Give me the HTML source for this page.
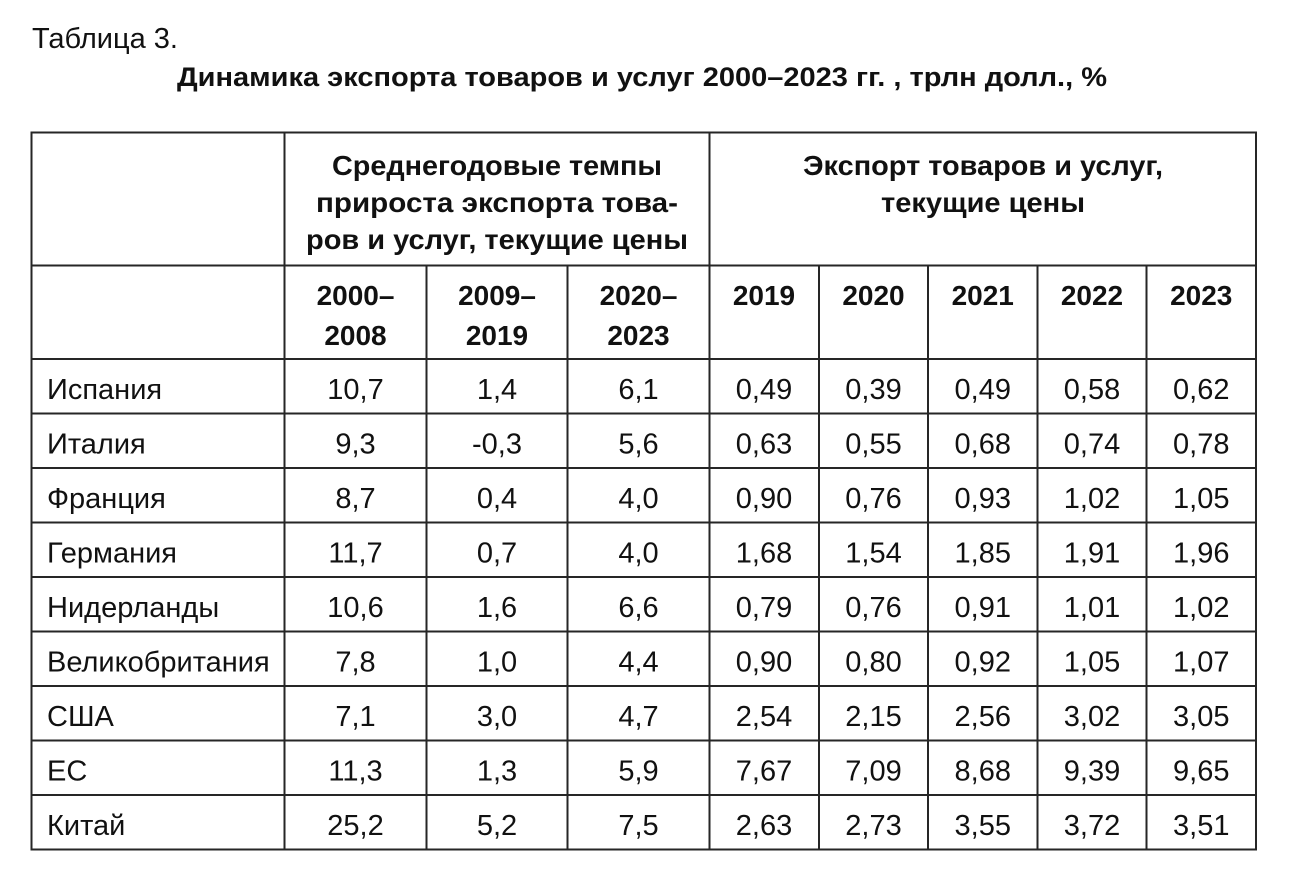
<!DOCTYPE html>
<html><head><meta charset="utf-8"><style>
html,body{margin:0;padding:0;background:#fff;}
svg{display:block;}
text{font-family:"Liberation Sans","DejaVu Sans",sans-serif;fill:#111;}
.b{font-weight:bold;}
.h{font-weight:bold;font-size:28px;text-anchor:middle;}
.n{font-size:29px;text-anchor:middle;}
.c{font-size:29px;}
</style></head><body>
<svg width="1291" height="879" viewBox="0 0 1291 879" xmlns="http://www.w3.org/2000/svg">
<rect width="1291" height="879" fill="#fff"/>
<text x="32" y="48" style="font-size:29px" textLength="146" lengthAdjust="spacingAndGlyphs">Таблица 3.</text>
<text x="642" y="86" class="b" style="font-size:26.5px" text-anchor="middle" textLength="930" lengthAdjust="spacingAndGlyphs">Динамика экспорта товаров и услуг 2000–2023 гг. , трлн долл., %</text>

<g stroke="#262626" stroke-width="2" fill="none">
<line x1="31.5" y1="132.5" x2="1256" y2="132.5"/>
<line x1="31.5" y1="265.5" x2="1256" y2="265.5"/>
<line x1="31.5" y1="359" x2="1256" y2="359"/>
<line x1="31.5" y1="413.5" x2="1256" y2="413.5"/>
<line x1="31.5" y1="468" x2="1256" y2="468"/>
<line x1="31.5" y1="522.5" x2="1256" y2="522.5"/>
<line x1="31.5" y1="577" x2="1256" y2="577"/>
<line x1="31.5" y1="631.5" x2="1256" y2="631.5"/>
<line x1="31.5" y1="686" x2="1256" y2="686"/>
<line x1="31.5" y1="740.5" x2="1256" y2="740.5"/>
<line x1="31.5" y1="795" x2="1256" y2="795"/>
<line x1="31.5" y1="849.5" x2="1256" y2="849.5"/>
<line x1="31.5" y1="131.5" x2="31.5" y2="850.5"/>
<line x1="284.5" y1="131.5" x2="284.5" y2="850.5"/>
<line x1="709.5" y1="131.5" x2="709.5" y2="850.5"/>
<line x1="1256" y1="131.5" x2="1256" y2="850.5"/>
<line x1="426.5" y1="265.5" x2="426.5" y2="850.5"/>
<line x1="567.5" y1="265.5" x2="567.5" y2="850.5"/>
<line x1="819" y1="265.5" x2="819" y2="850.5"/>
<line x1="928" y1="265.5" x2="928" y2="850.5"/>
<line x1="1037.5" y1="265.5" x2="1037.5" y2="850.5"/>
<line x1="1146.5" y1="265.5" x2="1146.5" y2="850.5"/>
</g>

<text class="h" x="497" y="175" textLength="330" lengthAdjust="spacingAndGlyphs">Среднегодовые темпы</text>
<text class="h" x="497" y="212" textLength="362" lengthAdjust="spacingAndGlyphs">прироста экспорта това-</text>
<text class="h" x="497" y="249" textLength="382" lengthAdjust="spacingAndGlyphs">ров и услуг, текущие цены</text>
<text class="h" x="983" y="175" textLength="360" lengthAdjust="spacingAndGlyphs">Экспорт товаров и услуг,</text>
<text class="h" x="983" y="212" textLength="204" lengthAdjust="spacingAndGlyphs">текущие цены</text>

<text class="h" x="355.5" y="305">2000–</text>
<text class="h" x="355.5" y="345">2008</text>
<text class="h" x="497" y="305">2009–</text>
<text class="h" x="497" y="345">2019</text>
<text class="h" x="638.5" y="305">2020–</text>
<text class="h" x="638.5" y="345">2023</text>
<text class="h" x="764" y="305">2019</text>
<text class="h" x="873.5" y="305">2020</text>
<text class="h" x="982.75" y="305">2021</text>
<text class="h" x="1092" y="305">2022</text>
<text class="h" x="1201.25" y="305">2023</text>

<g>
<text class="c" x="47" y="399">Испания</text>
<text class="n" x="355.5" y="399">10,7</text><text class="n" x="497" y="399">1,4</text><text class="n" x="638.5" y="399">6,1</text>
<text class="n" x="764" y="399">0,49</text><text class="n" x="873.5" y="399">0,39</text><text class="n" x="982.75" y="399">0,49</text><text class="n" x="1092" y="399">0,58</text><text class="n" x="1201.25" y="399">0,62</text>

<text class="c" x="47" y="453.5">Италия</text>
<text class="n" x="355.5" y="453.5">9,3</text><text class="n" x="497" y="453.5">-0,3</text><text class="n" x="638.5" y="453.5">5,6</text>
<text class="n" x="764" y="453.5">0,63</text><text class="n" x="873.5" y="453.5">0,55</text><text class="n" x="982.75" y="453.5">0,68</text><text class="n" x="1092" y="453.5">0,74</text><text class="n" x="1201.25" y="453.5">0,78</text>

<text class="c" x="47" y="508">Франция</text>
<text class="n" x="355.5" y="508">8,7</text><text class="n" x="497" y="508">0,4</text><text class="n" x="638.5" y="508">4,0</text>
<text class="n" x="764" y="508">0,90</text><text class="n" x="873.5" y="508">0,76</text><text class="n" x="982.75" y="508">0,93</text><text class="n" x="1092" y="508">1,02</text><text class="n" x="1201.25" y="508">1,05</text>

<text class="c" x="47" y="562.5">Германия</text>
<text class="n" x="355.5" y="562.5">11,7</text><text class="n" x="497" y="562.5">0,7</text><text class="n" x="638.5" y="562.5">4,0</text>
<text class="n" x="764" y="562.5">1,68</text><text class="n" x="873.5" y="562.5">1,54</text><text class="n" x="982.75" y="562.5">1,85</text><text class="n" x="1092" y="562.5">1,91</text><text class="n" x="1201.25" y="562.5">1,96</text>

<text class="c" x="47" y="617">Нидерланды</text>
<text class="n" x="355.5" y="617">10,6</text><text class="n" x="497" y="617">1,6</text><text class="n" x="638.5" y="617">6,6</text>
<text class="n" x="764" y="617">0,79</text><text class="n" x="873.5" y="617">0,76</text><text class="n" x="982.75" y="617">0,91</text><text class="n" x="1092" y="617">1,01</text><text class="n" x="1201.25" y="617">1,02</text>

<text class="c" x="47" y="671.5">Великобритания</text>
<text class="n" x="355.5" y="671.5">7,8</text><text class="n" x="497" y="671.5">1,0</text><text class="n" x="638.5" y="671.5">4,4</text>
<text class="n" x="764" y="671.5">0,90</text><text class="n" x="873.5" y="671.5">0,80</text><text class="n" x="982.75" y="671.5">0,92</text><text class="n" x="1092" y="671.5">1,05</text><text class="n" x="1201.25" y="671.5">1,07</text>

<text class="c" x="47" y="726">США</text>
<text class="n" x="355.5" y="726">7,1</text><text class="n" x="497" y="726">3,0</text><text class="n" x="638.5" y="726">4,7</text>
<text class="n" x="764" y="726">2,54</text><text class="n" x="873.5" y="726">2,15</text><text class="n" x="982.75" y="726">2,56</text><text class="n" x="1092" y="726">3,02</text><text class="n" x="1201.25" y="726">3,05</text>

<text class="c" x="47" y="780.5">ЕС</text>
<text class="n" x="355.5" y="780.5">11,3</text><text class="n" x="497" y="780.5">1,3</text><text class="n" x="638.5" y="780.5">5,9</text>
<text class="n" x="764" y="780.5">7,67</text><text class="n" x="873.5" y="780.5">7,09</text><text class="n" x="982.75" y="780.5">8,68</text><text class="n" x="1092" y="780.5">9,39</text><text class="n" x="1201.25" y="780.5">9,65</text>

<text class="c" x="47" y="835">Китай</text>
<text class="n" x="355.5" y="835">25,2</text><text class="n" x="497" y="835">5,2</text><text class="n" x="638.5" y="835">7,5</text>
<text class="n" x="764" y="835">2,63</text><text class="n" x="873.5" y="835">2,73</text><text class="n" x="982.75" y="835">3,55</text><text class="n" x="1092" y="835">3,72</text><text class="n" x="1201.25" y="835">3,51</text>
</g>
</svg>
</body></html>
